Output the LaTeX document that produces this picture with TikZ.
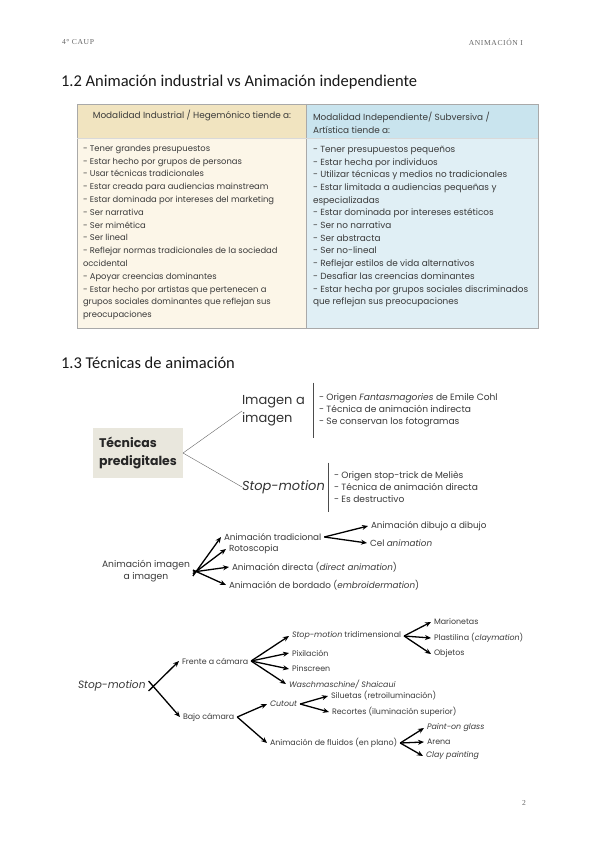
\documentclass[tikz,border=0pt]{standalone}
\usepackage{fontspec}
\usetikzlibrary{arrows.meta}
\newfontfamily\gothic{Poppins}
\newfontfamily\calib{Carlito}
\newfontfamily\headserif[LetterSpace=8]{Liberation Serif}
\definecolor{indhead}{HTML}{F1E4C0}
\definecolor{indbody}{HTML}{FCF6E8}
\definecolor{subhead}{HTML}{C9E4EE}
\definecolor{subbody}{HTML}{E0EFF5}
\definecolor{predigfill}{HTML}{E9E7DD}
\definecolor{inktext}{HTML}{3A3A3A}
\definecolor{rulegray}{HTML}{A9A9A9}
\begin{document}
\begin{tikzpicture}[x=1pt, y=-1pt, >=Stealth,
    every node/.style={inner sep=0pt, outer sep=0pt},
    pagehead/.style={font=\headserif\fontsize{7.6}{9}\selectfont, text=black!60},
    secthead/.style={font=\calib\fontsize{16.5}{19}\selectfont, text=black!90, anchor=west},
    tabtext/.style={font=\gothic\fontsize{8.4}{12.8}\selectfont, text=inktext, align=left},
    subtext/.style={tabtext, font=\gothic\fontsize{8.9}{12.7}\selectfont},
    notes/.style={font=\gothic\fontsize{9.1}{11.8}\selectfont, text=inktext, align=left, anchor=west, inner xsep=6pt},
    item/.style={font=\gothic\fontsize{8.8}{11}\selectfont, text=inktext, anchor=west, inner xsep=3pt},
    small/.style={font=\gothic\fontsize{7.9}{10}\selectfont, text=inktext, anchor=west, inner xsep=3pt},
    arr/.style={-{Stealth[length=6pt, width=5pt]}, line width=1.3pt}]
    \useasboundingbox[fill=white] (0,0) rectangle (600,848);

    % page header
    \node[pagehead, anchor=west] (course) at (62,42) {4° CAUP};
    \node[pagehead, anchor=east] (subject) at (523,42) {ANIMACIÓN I};

    \node[secthead] (sec12) at (61,82) {1.2 Animación industrial vs Animación independiente};

    % table
    \fill[indhead] (77,104) rectangle (306,138);
    \fill[indbody] (77,138) rectangle (306,328);
    \fill[subhead] (306,104) rectangle (538,138);
    \fill[subbody] (306,138) rectangle (538,328);
    \draw[rulegray, line width=0.5pt] (77,104) rectangle (538,328);
    \draw[rulegray, line width=0.5pt] (306,104) -- (306,328);
    \draw[white!85!black, line width=0.4pt] (77,138) -- (538,138);

    \node[subtext] (indtitle) at (192,116) {Modalidad Industrial / Hegemónico tiende a:};
    \node[subtext, anchor=north west] (subtitle) at (313,112)
        {Modalidad Independiente/ Subversiva /\\Artística tiende a:};

    \node[tabtext, anchor=north west] (indlist) at (83,145)
        {- Tener grandes presupuestos\\
         - Estar hecho por grupos de personas\\
         - Usar técnicas tradicionales\\
         - Estar creada para audiencias mainstream\\
         - Estar dominada por intereses del marketing\\
         - Ser narrativa\\
         - Ser mimética\\
         - Ser lineal\\
         - Reflejar normas tradicionales de la sociedad\\
         occidental\\
         - Apoyar creencias dominantes\\
         - Estar hecho por artistas que pertenecen a\\
         grupos sociales dominantes que reflejan sus\\
         preocupaciones};
    \node[subtext, anchor=north west] (sublist) at (313,146)
        {- Tener presupuestos pequeños\\
         - Estar hecha por individuos\\
         - Utilizar técnicas y medios no tradicionales\\
         - Estar limitada a audiencias pequeñas y\\
         especializadas\\
         - Estar dominada por intereses estéticos\\
         - Ser no narrativa\\
         - Ser abstracta\\
         - Ser no-lineal\\
         - Reflejar estilos de vida alternativos\\
         - Desafiar las creencias dominantes\\
         - Estar hecha por grupos sociales discriminados\\
         que reflejan sus preocupaciones};

    \node[secthead] (sec13) at (61,363) {1.3 Técnicas de animación};

    % tecnicas predigitales
    \node[fill=predigfill, minimum width=90, minimum height=50, align=left,
        font=\gothic\bfseries\fontsize{12.5}{18}\selectfont, text=black!85]
        (predig) at (138,453) {Técnicas\\predigitales};
    \node[font=\gothic\fontsize{13}{18}\selectfont, text=black!80, anchor=west, align=left]
        (imgimg) at (242,411) {Imagen a\\imagen};
    \node[font=\gothic\itshape\fontsize{13}{18}\selectfont, text=black!80, anchor=west]
        (stopmo) at (242,487) {Stop-motion};
    \node[notes, minimum height=55] (imgnotes) at (313,410)
        {- Origen \textit{Fantasmagories} de Emile Cohl\\
         - Técnica de animación indirecta\\
         - Se conservan los fotogramas};
    \node[notes, minimum height=49] (stopnotes) at (328,487)
        {- Origen stop-trick de Meliès\\
         - Técnica de animación directa\\
         - Es destructivo};
    \draw[black!60, line width=0.4pt] (predig.east) -- (imgimg.west);
    \draw[black!60, line width=0.4pt] (predig.east) -- (stopmo.west);
    \draw[black!70, line width=0.6pt] (imgnotes.north west) -- (imgnotes.south west);
    \draw[black!70, line width=0.6pt] (stopnotes.north west) -- (stopnotes.south west);

    % animacion imagen a imagen
    \node[item, align=center, font=\gothic\fontsize{9.2}{12}\selectfont] (aii) at (99,571)
        {Animación imagen\\a imagen};
    \node[item] (trad) at (221,537) {Animación tradicional};
    \node[item] (roto) at (226,549) {Rotoscopia};
    \node[item] (direct) at (229,567) {Animación directa (\textit{direct animation})};
    \node[item] (bord) at (226,585) {Animación de bordado (\textit{embroidermation})};
    \node[item] (dibujo) at (368,526) {Animación dibujo a dibujo};
    \node[item] (cel) at (367,543) {Cel \textit{animation}};
    \draw[arr] ([yshift=-5]aii.east) -- (trad.west);
    \draw[arr] ([yshift=-3]aii.east) -- (roto.west);
    \draw[arr] ([yshift=-1]aii.east) -- (direct.west);
    \draw[arr] ([yshift=1]aii.east) -- (bord.west);
    \draw[arr] (trad.east) -- (dibujo.west);
    \draw[arr] (trad.east) -- (cel.west);

    % stop-motion
    \node[item, font=\gothic\itshape\fontsize{10.6}{12}\selectfont] (sm) at (75,686) {Stop-motion};
    \node[small] (frente) at (179,661) {Frente a cámara};
    \node[small] (bajo) at (180,717) {Bajo cámara};
    \node[small] (tri) at (289,636) {\textit{Stop-motion} tridimensional};
    \node[small] (pix) at (289,653) {Pixilación};
    \node[small] (pin) at (289,669) {Pinscreen};
    \node[small] (wasch) at (286,684) {\textit{Waschmaschine/ Shaicaui}};
    \node[small] (mario) at (431,622) {Marionetas};
    \node[small] (plast) at (431,638) {Plastilina (\textit{claymation})};
    \node[small] (obj) at (431,654) {Objetos};
    \node[small] (cut) at (267,704) {\textit{Cutout}};
    \node[small] (fluid) at (267,743) {Animación de fluidos (en plano)};
    \node[small] (silu) at (328,696) {Siluetas (retroiluminación)};
    \node[small] (reco) at (329,712) {Recortes (iluminación superior)};
    \node[small] (paint) at (424,728) {\textit{Paint-on glass}};
    \node[small] (arena) at (424,742) {Arena};
    \node[small] (clay) at (423,756) {\textit{Clay painting}};

    \draw[arr] ([yshift=-5]sm.east) -- (frente.west);
    \draw[arr] ([yshift=5]sm.east) -- (bajo.west);
    \draw[arr] (frente.east) -- (tri.west);
    \draw[arr] (frente.east) -- (pix.west);
    \draw[arr] (frente.east) -- (pin.west);
    \draw[arr] (frente.east) -- (wasch.west);
    \draw[arr] (tri.east) -- (mario.west);
    \draw[arr] (tri.east) -- (plast.west);
    \draw[arr] (tri.east) -- (obj.west);
    \draw[arr] (bajo.east) -- (cut.west);
    \draw[arr] (bajo.east) -- (fluid.west);
    \draw[arr] (cut.east) -- (silu.west);
    \draw[arr] (cut.east) -- (reco.west);
    \draw[arr] (fluid.east) -- (paint.west);
    \draw[arr] (fluid.east) -- (arena.west);
    \draw[arr] (fluid.east) -- (clay.west);

    \node[pagehead, anchor=east] (pageno) at (526,803) {2};
\end{tikzpicture}
\end{document}
